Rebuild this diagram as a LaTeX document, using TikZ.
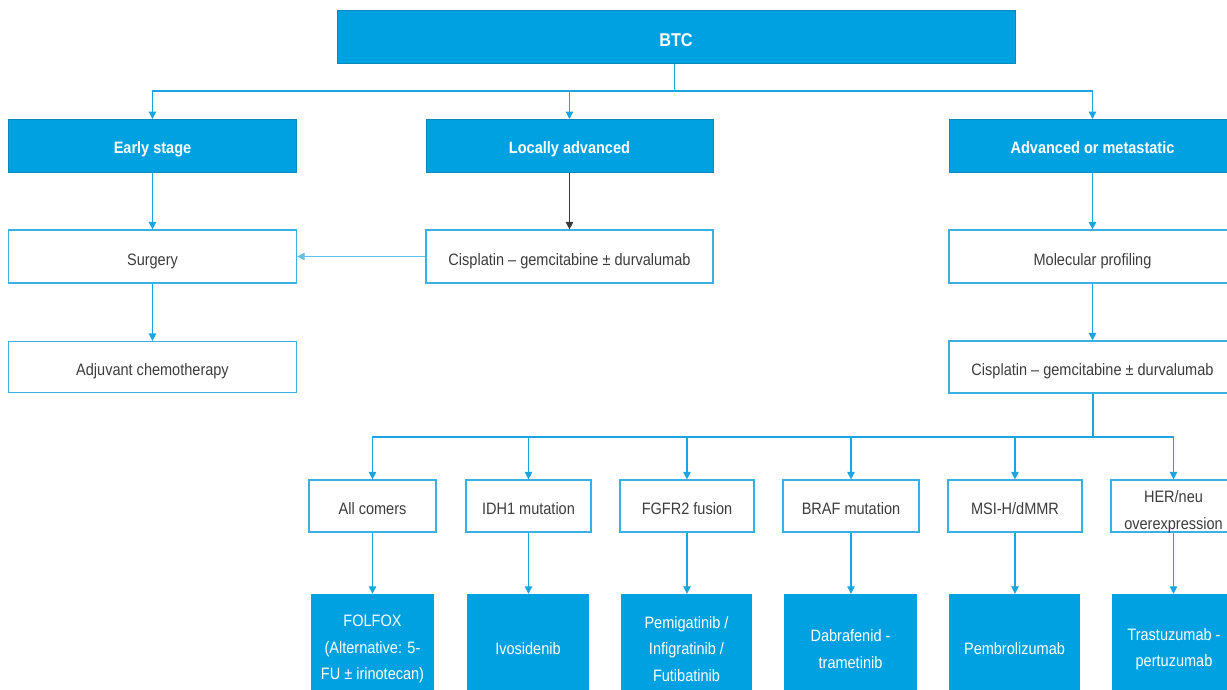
\documentclass[tikz,border=0pt]{standalone}
\usepackage{fontspec}
\setmainfont[FakeStretch=0.88]{Liberation Sans}
\usetikzlibrary{arrows.meta}
\definecolor{bfill}{HTML}{00A1E0}
\definecolor{bedge}{HTML}{0B88BE}
\definecolor{wedge}{HTML}{3AB0E4}
\definecolor{arrc}{HTML}{1AA5E0}
\definecolor{txtc}{HTML}{3C3C3C}
\definecolor{darkarr}{HTML}{3A3A3A}
\begin{document}
\begin{tikzpicture}[x=1pt,y=-1pt,
  every node/.style={inner sep=0pt,align=center,font=\fontsize{16.5}{26.5}\selectfont},
  oneline/.style={text height=17.5pt,text depth=0pt},
  bluebox/.style={rectangle,fill=bfill,draw=bedge,line width=1pt,text=white,font=\fontsize{16.5}{26.5}\selectfont\bfseries,text height=14pt,text depth=0pt},
  whitebox/.style={rectangle,fill=white,draw=wedge,line width=1.2pt,text=txtc},
  treatbox/.style={rectangle,fill=bfill,text=white,minimum height=108},
  treattext/.style={text=white},
  arr/.style={draw=arrc,line width=1.2pt,-{Triangle[length=7.5pt,width=7.5pt]}},
  stemline/.style={draw=arrc,line width=2pt}]
\useasboundingbox (0,0) rectangle (1227,689);
% top
\node[bluebox,minimum width=678,minimum height=53,font=\fontsize{18.5}{20}\selectfont\bfseries,text height=20pt] (btc) at (676,36.5) {BTC};
% level 2
\node[bluebox,minimum width=288,minimum height=53] (early) at (152.5,146) {Early stage};
\node[bluebox,minimum width=287,minimum height=53] (local) at (569.5,146) {Locally advanced};
\node[bluebox,minimum width=287,minimum height=53] (adv) at (1092.5,146) {Advanced or metastatic};
% level 3
\node[whitebox,oneline,minimum width=288,minimum height=53] (surg) at (152.5,256.5) {Surgery};
\node[whitebox,oneline,minimum width=287,minimum height=53] (cis1) at (569.5,256.5) {Cisplatin – gemcitabine ± durvalumab};
\node[whitebox,oneline,minimum width=287,minimum height=53] (mol) at (1092.5,256.5) {Molecular profiling};
% level 4
\node[whitebox,oneline,minimum width=288,minimum height=51] (adj) at (152.5,367) {Adjuvant chemotherapy};
\node[whitebox,oneline,minimum width=287,minimum height=52] (cis2) at (1092.5,367) {Cisplatin – gemcitabine ± durvalumab};
% biomarker row
\node[whitebox,oneline,minimum width=127,minimum height=52] (allc) at (372.5,506) {All comers};
\node[whitebox,oneline,minimum width=125,minimum height=52] (idh) at (528.5,506) {IDH1 mutation};
\node[whitebox,oneline,minimum width=134,minimum height=52] (fgfr) at (687,506) {FGFR2 fusion};
\node[whitebox,oneline,minimum width=136,minimum height=52] (braf) at (851,506) {BRAF mutation};
\node[whitebox,oneline,minimum width=134,minimum height=52] (msi) at (1015,506) {MSI-H/dMMR};
\node[whitebox,minimum width=125,minimum height=52] (her) at (1173.5,506) {};
\node[text=txtc] (hertxt) at (1173.5,511.5) {HER/neu\\overexpression};
% treatment row
\node[treatbox,minimum width=123] (folfox) at (372.5,648) {};
\node[treattext] (folfoxt) at (372.5,649) {FOLFOX\\(Alternative: 5-\\FU ± irinotecan)};
\node[treatbox,minimum width=122,text height=12pt,text depth=0pt] (ivo) at (528,648) {Ivosidenib};
\node[treatbox,minimum width=131] (pemi) at (686.5,648) {};
\node[treattext] (pemit) at (686.5,649) {Pemigatinib /\\Infigratinib /\\Futibatinib};
\node[treatbox,minimum width=133] (dab) at (850.5,648) {};
\node[treattext] (dabt) at (850.5,649) {Dabrafenid -\\trametinib};
\node[treatbox,minimum width=131,text height=12pt,text depth=0pt] (pem) at (1014.5,648) {Pembrolizumab};
\node[treatbox,minimum width=124] (tra) at (1174,648) {};
\node[treattext] (trat) at (1174,649) {Trastuzumab -\\pertuzumab};
% connectors from BTC
\coordinate (hub1) at (674.5,91);
\draw[draw=arrc,line width=1.2pt] (btc.south -| hub1) -- (hub1);
\draw[arr] (hub1) -| (early.north);
\draw[arr] (hub1) -| (local.north);
\draw[arr] (hub1) -| (adv.north);
% level connectors
\draw[arr] (early.south) -- (surg.north);
\draw[arr] (surg.south) -- (adj.north);
\draw[draw=darkarr,line width=1.2pt,-{Triangle[length=7.5pt,width=7.5pt]}] (local.south) -- (cis1.north);
\draw[arr,draw=arrc!70] (cis1.west) -- (surg.east);
\draw[arr] (adv.south) -- (mol.north);
\draw[arr] (mol.south) -- (cis2.north);
% biomarker branching
\coordinate (hub2) at (1092.5,437);
\draw[stemline] (cis2.south) -- (hub2);
\draw[arr] (hub2) -| (allc.north);
\draw[arr] (hub2) -| (idh.north);
\draw[arr] (hub2) -| (fgfr.north);
\draw[arr] (hub2) -| (braf.north);
\draw[arr] (hub2) -| (msi.north);
\draw[arr] (hub2) -| (her.north);
% to treatments
\draw[arr] (allc.south) -- (allc.south |- folfox.north);
\draw[arr] (idh.south) -- (idh.south |- ivo.north);
\draw[arr] (fgfr.south) -- (fgfr.south |- pemi.north);
\draw[arr] (braf.south) -- (braf.south |- dab.north);
\draw[arr] (msi.south) -- (msi.south |- pem.north);
\draw[arr] (her.south) -- (her.south |- tra.north);
\end{tikzpicture}
\end{document}
